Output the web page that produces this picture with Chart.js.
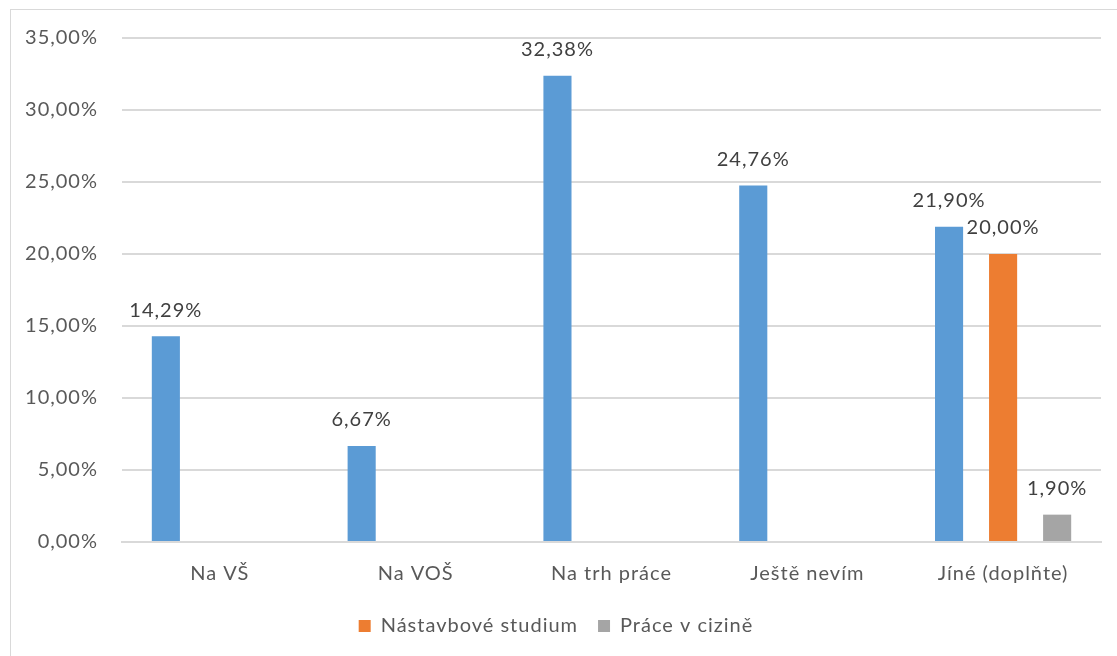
<!DOCTYPE html>
<html>
<head>
<meta charset="utf-8">
<script src="https://cdn.jsdelivr.net/npm/chart.js@4"></script>
<style>
    body { margin: 0; background: #fff; }
    #wrap {
        position: absolute; left: 10px; top: 9px;
        width: 1107px; height: 647px;
        border-top: 1.5px solid #d9d9d9;
        border-left: 1.5px solid #d9d9d9;
    }
</style>
</head>
<body>
<div id="wrap"><canvas id="chart" width="1106" height="646"></canvas></div>
<script>
const categories = ['Na VŠ', 'Na VOŠ', 'Na trh práce', 'Ještě nevím', 'Jíné (doplňte)'];
const mainValues = [14.29, 6.67, 32.38, 24.76, 21.90];
const nastavboveValues = [null, null, null, null, 20.00];
const ciziValues = [null, null, null, null, 1.90];
const yTicks = [0, 5, 10, 15, 20, 25, 30, 35];

const textColor = '#595959';
const fontFamily = 'Lato, "Open Sans", sans-serif';
const fontSize = 20;

function pct(v) {
    return v.toFixed(2).replace('.', ',') + '%';
}

// the reference text is spaced a bit wider than the fonts we have
const spacing = {
    id: 'spacing',
    beforeUpdate(chart) { chart.ctx.letterSpacing = '1px'; },
    beforeDraw(chart) { chart.ctx.letterSpacing = '1px'; }
};

// draw value labels above every bar (no datalabels plugin available offline)
const valueLabels = {
    id: 'valueLabels',
    afterDatasetsDraw(chart) {
        const ctx = chart.ctx;
        ctx.save();
        ctx.font = fontSize + 'px ' + fontFamily;
        ctx.fillStyle = '#404040';
        ctx.textAlign = 'center';
        ctx.textBaseline = 'middle';
        chart.data.datasets.forEach((ds, i) => {
            const meta = chart.getDatasetMeta(i);
            meta.data.forEach((bar, j) => {
                const v = ds.data[j];
                if (v === null) return;
                ctx.fillText(pct(v), bar.x, bar.y - 26);
            });
        });
        ctx.restore();
    }
};

new Chart(document.getElementById('chart'), {
    type: 'bar',
    data: {
        labels: categories,
        datasets: [
            { label: 'Řada1', data: mainValues, backgroundColor: '#5b9bd5' },
            { label: 'Nástavbové studium', data: nastavboveValues, backgroundColor: '#ed7d31' },
            { label: 'Práce v cizině', data: ciziValues, backgroundColor: '#a5a5a5' }
        ]
    },
    options: {
        responsive: false,
        animation: false,
        devicePixelRatio: 1,
        layout: { padding: { top: 28, right: 16, bottom: 10, left: 0 } },
        datasets: {
            bar: { categoryPercentage: 0.828, barPercentage: 0.52, skipNull: false }
        },
        plugins: {
            legend: {
                position: 'bottom',
                labels: {
                    filter: item => item.datasetIndex !== 0,
                    boxWidth: 12,
                    boxHeight: 12,
                    padding: 20,
                    color: textColor,
                    font: { family: fontFamily, size: fontSize }
                }
            },
            tooltip: { enabled: false }
        },
        scales: {
            x: {
                grid: { display: false },
                border: { display: true, color: '#d9d9d9', width: 2 },
                ticks: { color: textColor, padding: 12, font: { family: fontFamily, size: fontSize } },
                afterFit: s => { s.height = 54; }
            },
            y: {
                min: 0,
                max: 35,
                afterBuildTicks: s => { s.ticks = yTicks.map(v => ({ value: v })); },
                grid: { color: '#d9d9d9', lineWidth: 2, drawTicks: false },
                border: { display: false },
                ticks: {
                    color: textColor,
                    padding: 24,
                    font: { family: fontFamily, size: fontSize },
                    callback: v => pct(v)
                },
                afterFit: s => {
                    s.width = 111;
                    s.paddingTop = 0;
                    s.paddingBottom = 0;
                }
            }
        }
    },
    plugins: [spacing, valueLabels]
});
</script>
</body>
</html>
